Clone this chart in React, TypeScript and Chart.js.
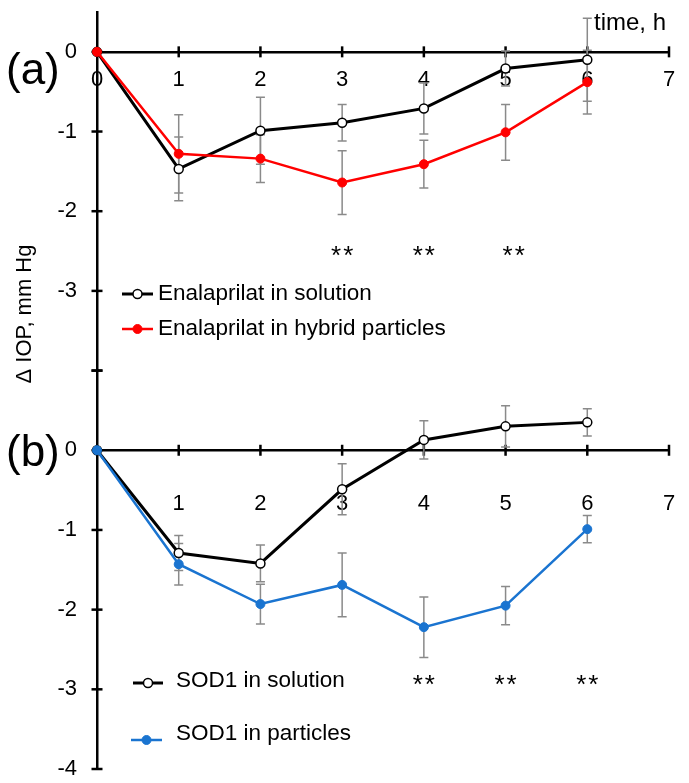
import React, { useEffect, useRef } from 'react';
import { Chart, registerables } from 'chart.js';

Chart.register(...registerables);

// ---------- data ----------
const hours = [0, 1, 2, 3, 4, 5, 6];

// Panel (a)
const enalSolution = [0, -1.47, -0.99, -0.89, -0.71, -0.21, -0.1];
const enalSolutionErr = [0, 0.4, 0.42, 0.23, 0.32, 0.22, 0.52];
const enalParticles = [0, -1.28, -1.34, -1.64, -1.41, -1.01, -0.38];
const enalParticlesErr = [0, 0.49, 0.3, 0.4, 0.3, 0.35, 0.4];

// Panel (b)
const sodSolution = [0, -1.29, -1.42, -0.49, 0.13, 0.3, 0.35];
const sodSolutionErr = [0, 0.22, 0.23, 0.32, 0.24, 0.26, 0.17];
const sodParticles = [0, -1.43, -1.93, -1.69, -2.22, -1.95, -0.99];
const sodParticlesErr = [0, 0.26, 0.25, 0.4, 0.38, 0.24, 0.17];

// significance marks (hour positions and level)
const sigAHours = [3, 4, 5.1];
const sigALevel = -2.5;
const sigBHours = [4, 5, 6];
const sigBLevel = -2.88;

const xTicksA = [0, 1, 2, 3, 4, 5, 6, 7];
const yTicksA = [0, -1, -2, -3];
const yTicksB = [0, -1, -2, -3, -4];

const legendA = ['Enalaprilat in solution', 'Enalaprilat in hybrid particles'];
const legendB = ['SOD1 in solution', 'SOD1 in particles'];

const FONT = 'Liberation Sans, Arial, sans-serif';
const RED = '#ff0000';
const BLUE = '#1a74d0';
const GREY = '#8a8a8a';

const pts = (vals: number[]) => hours.map((h, i) => ({ x: h, y: vals[i] }));

const errorSeries = [
  { x: 'xa', y: 'ya', vals: enalSolution, err: enalSolutionErr },
  { x: 'xa', y: 'ya', vals: enalParticles, err: enalParticlesErr },
  { x: 'xb', y: 'yb', vals: sodSolution, err: sodSolutionErr },
  { x: 'xb', y: 'yb', vals: sodParticles, err: sodParticlesErr },
];

function drawMarker(ctx: CanvasRenderingContext2D, x: number, y: number, color: string, filled: boolean) {
  ctx.beginPath();
  ctx.arc(x, y, 4.5, 0, Math.PI * 2);
  ctx.fillStyle = filled ? color : '#ffffff';
  ctx.fill();
  ctx.lineWidth = filled ? 1 : 1.5;
  ctx.strokeStyle = color;
  ctx.stroke();
}

function drawLegendItem(
  ctx: CanvasRenderingContext2D,
  x1: number, x2: number, ly: number,
  color: string, filled: boolean,
  tx: number, ty: number, label: string
) {
  ctx.save();
  ctx.beginPath();
  ctx.moveTo(x1, ly);
  ctx.lineTo(x2, ly);
  ctx.lineWidth = filled ? 2.5 : 3;
  ctx.strokeStyle = color;
  ctx.stroke();
  drawMarker(ctx, (x1 + x2) / 2, ly, color, filled);
  ctx.fillStyle = '#000';
  ctx.font = `22.5px ${FONT}`;
  ctx.textAlign = 'left';
  ctx.textBaseline = 'middle';
  ctx.fillText(label, tx, ty);
  ctx.restore();
}

const decorPlugin = {
  id: 'decor',
  beforeDatasetsDraw(chart: any) {
    const ctx: CanvasRenderingContext2D = chart.ctx;
    const s = chart.scales;
    ctx.save();
    // crossing tick marks
    ctx.strokeStyle = '#000';
    ctx.lineWidth = 2.5;
    const yAxisX = s.xa.getPixelForValue(0);
    [s.ya, s.yb].forEach((sc: any) => {
      sc.ticks.forEach((t: any) => {
        const py = sc.getPixelForValue(t.value);
        ctx.beginPath();
        ctx.moveTo(yAxisX - 5.5, py);
        ctx.lineTo(yAxisX + 5.5, py);
        ctx.stroke();
      });
    });
    [
      [s.xa, s.ya],
      [s.xb, s.yb],
    ].forEach(([xs, ys]: any) => {
      const py = ys.getPixelForValue(0);
      xs.ticks.forEach((t: any) => {
        if (t.value === 0) return;
        const px = xs.getPixelForValue(t.value);
        ctx.beginPath();
        ctx.moveTo(px, py - 5.5);
        ctx.lineTo(px, py + 5.5);
        ctx.stroke();
      });
    });
    // error bars
    ctx.strokeStyle = GREY;
    ctx.lineWidth = 1.5;
    errorSeries.forEach((ser) => {
      const xs = s[ser.x];
      const ys = s[ser.y];
      ser.vals.forEach((v, i) => {
        const e = ser.err[i];
        if (!e) return;
        const px = xs.getPixelForValue(hours[i]);
        const top = ys.getPixelForValue(v + e);
        const bot = ys.getPixelForValue(v - e);
        ctx.beginPath();
        ctx.moveTo(px, top);
        ctx.lineTo(px, bot);
        ctx.moveTo(px - 4.5, top);
        ctx.lineTo(px + 4.5, top);
        ctx.moveTo(px - 4.5, bot);
        ctx.lineTo(px + 4.5, bot);
        ctx.stroke();
      });
    });
    ctx.restore();
  },
  afterDraw(chart: any) {
    const ctx: CanvasRenderingContext2D = chart.ctx;
    const s = chart.scales;
    ctx.save();
    ctx.fillStyle = '#000';
    // panel letters
    ctx.font = `44px ${FONT}`;
    ctx.textAlign = 'left';
    ctx.textBaseline = 'alphabetic';
    ctx.fillText('(a)', 6, 84);
    ctx.fillText('(b)', 6, 466);
    // axis titles
    ctx.font = `24px ${FONT}`;
    ctx.fillText('time, h', 594, 30);
    ctx.save();
    ctx.translate(25, 314);
    ctx.rotate(-Math.PI / 2);
    ctx.font = `22px ${FONT}`;
    ctx.textAlign = 'center';
    ctx.textBaseline = 'middle';
    ctx.fillText('\u0394 IOP, mm Hg', 0, 0);
    ctx.restore();
    // significance marks
    ctx.font = `26px ${FONT}`;
    ctx.textAlign = 'center';
    ctx.textBaseline = 'middle';
    (ctx as any).letterSpacing = '2px';
    sigAHours.forEach((h) => {
      ctx.fillText('**', s.xa.getPixelForValue(h) + 1, s.ya.getPixelForValue(sigALevel) + 6);
    });
    sigBHours.forEach((h) => {
      ctx.fillText('**', s.xb.getPixelForValue(h) + 1, s.yb.getPixelForValue(sigBLevel) + 6);
    });
    (ctx as any).letterSpacing = '0px';
    ctx.restore();
    // legends
    drawLegendItem(ctx, 122, 153, 294, '#000', false, 158, 294, legendA[0]);
    drawLegendItem(ctx, 122, 153, 329, RED, true, 158, 329, legendA[1]);
    drawLegendItem(ctx, 133, 163, 683, '#000', false, 176, 681, legendB[0]);
    drawLegendItem(ctx, 131, 162, 740, BLUE, true, 176, 734, legendB[1]);
  },
};

const tickFont = { family: FONT, size: 22 };

function yScale(min: number, max: number, weight: number, stackWeight: number, labels: number[]) {
  return {
    type: 'linear',
    position: 'left',
    stack: 'v',
    stackWeight,
    weight,
    min,
    max,
    grid: { display: false, drawTicks: false },
    border: { display: true, color: '#000', width: 2.5 },
    ticks: {
      stepSize: 1,
      includeBounds: false,
      padding: 20,
      color: '#000',
      font: tickFont,
      callback: (v: number) => (labels.includes(v) ? String(v) : ''),
    },
    afterFit: (sc: any) => {
      sc.width = 97;
      sc.paddingTop = 0;
      sc.paddingBottom = 0;
    },
  };
}

function xScale(yId: string, padding: number, labels: number[]) {
  return {
    type: 'linear',
    position: { [yId]: 0 },
    min: 0,
    max: 7,
    grid: { display: false, drawTicks: false },
    border: { display: true, color: '#000', width: 2.5 },
    ticks: {
      stepSize: 1,
      padding,
      color: '#000',
      font: tickFont,
      maxRotation: 0,
      callback: (v: number) => (labels.includes(v) ? String(v) : ''),
    },
    afterFit: (sc: any) => {
      sc.paddingLeft = 0;
      sc.paddingRight = 0;
    },
  };
}

function lineDataset(label: string, vals: number[], xId: string, yId: string, color: string, filled: boolean) {
  return {
    label,
    data: pts(vals),
    xAxisID: xId,
    yAxisID: yId,
    borderColor: color,
    backgroundColor: color,
    borderWidth: filled ? 2.5 : 3,
    pointRadius: 4.5,
    pointHoverRadius: 4.5,
    pointBackgroundColor: filled ? color : '#ffffff',
    pointBorderColor: color,
    pointBorderWidth: filled ? 1 : 1.5,
    tension: 0,
    fill: false,
    clip: false,
  };
}

export default function App() {
  const ref = useRef<HTMLCanvasElement | null>(null);

  useEffect(() => {
    if (!ref.current) return;
    const chart = new Chart(ref.current, {
      type: 'line',
      data: {
        datasets: [
          lineDataset(legendA[1], enalParticles, 'xa', 'ya', RED, true),
          lineDataset(legendA[0], enalSolution, 'xa', 'ya', '#000', false),
          lineDataset(legendB[1], sodParticles, 'xb', 'yb', BLUE, true),
          lineDataset(legendB[0], sodSolution, 'xb', 'yb', '#000', false),
        ] as any,
      },
      options: {
        animation: false,
        responsive: false,
        devicePixelRatio: 1,
        layout: { padding: { left: 0, top: 12, right: 20, bottom: 14 } },
        plugins: { legend: { display: false }, tooltip: { enabled: false }, title: { display: false } },
        events: [],
        scales: {
          ya: yScale(-4, 0.5, 1, 4.5, yTicksA),
          yb: yScale(-4, 1, 0, 5, yTicksB),
          xa: xScale('ya', 15, xTicksA),
          xb: xScale('yb', 40, xTicksA.filter((v) => v !== 0)),
        } as any,
      },
      plugins: [decorPlugin as any],
    });
    return () => chart.destroy();
  }, []);

  return (
    <div style={{ position: 'fixed', left: 0, top: 0, width: 689, height: 783, background: '#fff' }}>
      <canvas ref={ref} width={689} height={783} style={{ display: 'block' }} />
    </div>
  );
}
